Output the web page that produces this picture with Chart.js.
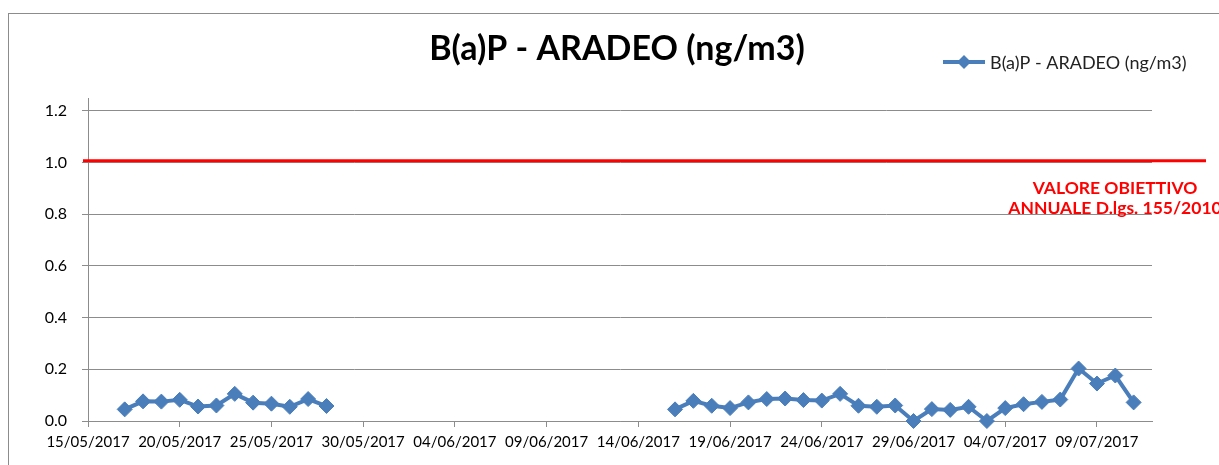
<!DOCTYPE html>
<html>
<head>
<meta charset="utf-8">
<title>B(a)P - ARADEO (ng/m3)</title>
<script src="https://cdn.jsdelivr.net/npm/chart.js@4/dist/chart.umd.min.js"></script>
<style>
    html, body { margin: 0; padding: 0; background: #fff; overflow: hidden; }
    #wrap { position: relative; width: 1219px; height: 465px; }
    #frame { position: absolute; left: 8px; top: 13px; width: 1400px; height: 600px; border: 1px solid #8c8c8c; box-sizing: border-box; }
    #chart { position: absolute; left: 0; top: 0; }
</style>
</head>
<body>
<div id="wrap">
    <div id="frame"></div>
    <canvas id="chart" width="1219" height="465"></canvas>
</div>
<script>
// Data
const sampleDates = [
    '17/05/2017', '18/05/2017', '19/05/2017', '20/05/2017', '21/05/2017', '22/05/2017',
    '23/05/2017', '24/05/2017', '25/05/2017', '26/05/2017', '27/05/2017', '28/05/2017',
    '16/06/2017', '17/06/2017', '18/06/2017', '19/06/2017', '20/06/2017', '21/06/2017',
    '22/06/2017', '23/06/2017', '24/06/2017', '25/06/2017', '26/06/2017', '27/06/2017',
    '28/06/2017', '29/06/2017', '30/06/2017', '01/07/2017', '02/07/2017', '03/07/2017',
    '04/07/2017', '05/07/2017', '06/07/2017', '07/07/2017', '08/07/2017', '09/07/2017',
    '10/07/2017', '11/07/2017'
];
const bapValues = [
    0.045, 0.076, 0.075, 0.082, 0.056, 0.060, 0.105, 0.071, 0.067, 0.055, 0.085, 0.058,
    0.045, 0.078, 0.059, 0.050, 0.072, 0.085, 0.087, 0.081, 0.079, 0.105, 0.059, 0.055,
    0.060, 0.000, 0.046, 0.043, 0.055, 0.000, 0.050, 0.065, 0.074, 0.083, 0.203, 0.145,
    0.176, 0.072
];
const xTickLabels = [
    '15/05/2017', '20/05/2017', '25/05/2017', '30/05/2017', '04/06/2017', '09/06/2017',
    '14/06/2017', '19/06/2017', '24/06/2017', '29/06/2017', '04/07/2017', '09/07/2017'
];
const yTickValues = [0, 0.2, 0.4, 0.6, 0.8, 1.0, 1.2];
const xRange = ['15/05/2017', '12/07/2017'];
const yMax = 1.25;
const limitValue = 1.007;

const seriesName = 'B(a)P - ARADEO (ng/m3)';
const limitText = ['VALORE OBIETTIVO', 'ANNUALE D.lgs. 155/2010'];

const DAY = 86400000;
function toMs(str) {
    const p = str.split('/');
    return Date.UTC(+p[2], +p[1] - 1, +p[0]);
}
const origin = toMs(xRange[0]);
function toDay(str) { return Math.round((toMs(str) - origin) / DAY); }
function fromDay(d) {
    const dt = new Date(origin + d * DAY);
    const dd = String(dt.getUTCDate()).padStart(2, '0');
    const mm = String(dt.getUTCMonth() + 1).padStart(2, '0');
    return dd + '/' + mm + '/' + dt.getUTCFullYear();
}

const blue = '#4a7ebb';
const gridGrey = '#8c8c8c';
const font = 'Lato, "Open Sans", sans-serif';

// Title, legend, limit line and its label
const decorations = {
    id: 'decorations',
    afterDatasetsDraw(chart) {
        const ctx = chart.ctx;
        const area = chart.chartArea;
        const y = chart.scales.y.getPixelForValue(limitValue);
        ctx.save();

        // red limit line, runs a bit past the plot area like the original
        ctx.strokeStyle = '#ff0000';
        ctx.lineWidth = 3;
        ctx.beginPath();
        ctx.moveTo(area.left - 5, y);
        ctx.lineTo(area.right + 54, y);
        ctx.stroke();

        ctx.fillStyle = '#ff0000';
        ctx.font = 'bold 17.5px ' + font;
        ctx.textAlign = 'center';
        ctx.textBaseline = 'alphabetic';
        ctx.fillText(limitText[0], 1115, y + 33);
        ctx.fillText(limitText[1], 1115, y + 53);

        // title
        ctx.fillStyle = '#000';
        ctx.font = 'bold 34px ' + font;
        ctx.fillText(seriesName, 617, 60);

        // legend
        ctx.strokeStyle = blue;
        ctx.lineWidth = 4;
        ctx.beginPath();
        ctx.moveTo(943, 62);
        ctx.lineTo(985, 62);
        ctx.stroke();
        ctx.fillStyle = blue;
        ctx.beginPath();
        ctx.moveTo(964 - 7, 62);
        ctx.lineTo(964, 62 - 7);
        ctx.lineTo(964 + 7, 62);
        ctx.lineTo(964, 62 + 7);
        ctx.closePath();
        ctx.fill();
        ctx.fillStyle = '#222';
        ctx.font = '18px ' + font;
        ctx.textAlign = 'left';
        ctx.textBaseline = 'middle';
        ctx.fillText(seriesName, 990, 63);
        ctx.restore();
    }
};

document.addEventListener('DOMContentLoaded', function() {
    const points = sampleDates.map((d, i) => ({ x: toDay(d), y: bapValues[i] }));

    new Chart(document.getElementById('chart'), {
        type: 'line',
        data: {
            datasets: [{
                label: seriesName,
                data: points,
                borderColor: blue,
                backgroundColor: blue,
                borderWidth: 4,
                pointStyle: 'rectRot',
                pointRadius: 7.5,
                pointBorderWidth: 1,
                pointBackgroundColor: blue,
                pointBorderColor: blue,
                tension: 0,
                spanGaps: 2,
                clip: false
            }]
        },
        options: {
            responsive: false,
            animation: false,
            layout: { padding: { top: 98, right: 67, left: 0, bottom: 0 } },
            plugins: {
                legend: { display: false },
                title: { display: false },
                tooltip: { enabled: false }
            },
            scales: {
                x: {
                    type: 'linear',
                    min: 0,
                    max: toDay(xRange[1]),
                    afterBuildTicks: s => { s.ticks = xTickLabels.map(l => ({ value: toDay(l) })); },
                    afterFit: s => { s.height = 44; },
                    grid: { drawOnChartArea: false, drawTicks: true, tickLength: 6, color: gridGrey },
                    border: { color: gridGrey, width: 1 },
                    ticks: {
                        autoSkip: false,
                        maxRotation: 0,
                        padding: 6,
                        color: '#000',
                        font: { family: font, size: 15 },
                        callback: v => fromDay(v)
                    }
                },
                y: {
                    min: 0,
                    max: yMax,
                    afterBuildTicks: s => { s.ticks = yTickValues.map(v => ({ value: v })); },
                    afterFit: s => { s.width = 88; },
                    grid: { color: gridGrey, tickLength: 6 },
                    border: { color: gridGrey, width: 1 },
                    ticks: {
                        padding: 15,
                        color: '#000',
                        font: { family: font, size: 16 },
                        callback: v => v.toFixed(1)
                    }
                }
            }
        },
        plugins: [decorations]
    });
});
</script>
</body>
</html>
